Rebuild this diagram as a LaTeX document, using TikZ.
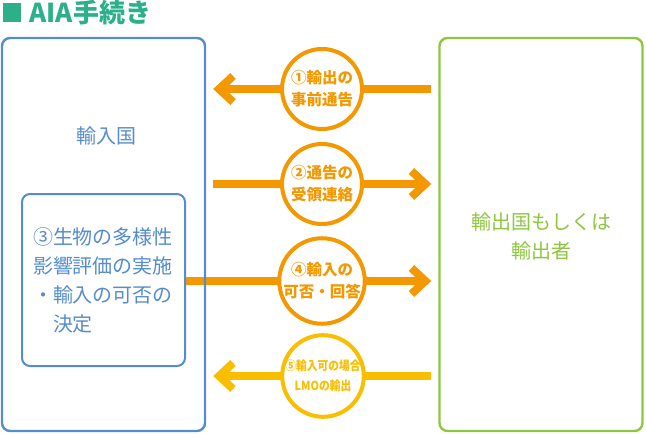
\documentclass[tikz,border=0pt]{standalone}
\usepackage{fontspec}
\setmainfont{Noto Sans CJK JP}
\usepackage{graphicx}
\usepackage{tikz}
\usetikzlibrary{positioning,arrows.meta,backgrounds}
\definecolor{impblue}{RGB}{84, 140, 205}
\definecolor{expgreen}{RGB}{141, 198, 63}
\definecolor{arrorange}{RGB}{243, 152, 0}
\definecolor{arryellow}{RGB}{249, 190, 0}
\definecolor{titlegreen}{RGB}{43, 176, 138}

\begin{document}
\begin{tikzpicture}[x=1pt, y=-1pt,
    bigbox/.style={line width=2.4pt, rounded corners=8pt,
                   minimum width=203pt, minimum height=393pt},
    boxtext/.style={align=center, font=\fontsize{20}{29}\selectfont},
    stepcircle/.style={circle, draw=arrorange, fill=white, line width=4pt,
                       minimum size=80pt, inner sep=0pt, align=center,
                       text=arrorange, font=\bfseries\fontsize{15.5}{22}\selectfont},
    arr/.style={line width=8pt, color=arrorange,
                -{Straight Barb[length=14pt, width=26pt]}, miter limit=10},
]
\useasboundingbox (0,0) rectangle (646,434);

% title
\node[fill=titlegreen, minimum width=18pt, minimum height=19pt, inner sep=0pt] (mark) at (12,12.5) {};
\node[right=5pt of mark, text=titlegreen, font=\bfseries\fontsize{26}{26}\selectfont] (title) {AIA手続き};

% importing / exporting side
\node[bigbox, draw=impblue] (imp) at (103.5,234.5) {};
\node[bigbox, draw=expgreen] (exp) at (541,234.5) {};
\node[boxtext, text=impblue] (implabel) at (106,136) {輸入国};
\node[boxtext, text=expgreen] (explabel) at (541,236) {輸出国もしくは\\輸出者};
\node[draw=impblue, line width=2pt, rounded corners=8pt, minimum width=163pt,
      minimum height=172pt, text=impblue, align=left, inner sep=0pt,
      text width=141pt, font=\fontsize{20}{29}\selectfont] (assess) at (103.5,280)
      {③生物の多様性\\影響評価の実施\\・輸入の可否の\\　決定};

% steps
\node[stepcircle] (notify)   at (322,89)  {①輸出の\\事前通告};
\node[stepcircle] (receipt)  at (322,184) {②通告の\\受領連絡};
\node[stepcircle] (decision) at (322,281) {④輸入の\\可否・回答};
\node[stepcircle, draw=arryellow, text=arryellow,
      font=\bfseries\fontsize{12.5}{20}\selectfont] (lmoexport) at (323,376)
      {\scalebox{0.86}[1]{⑤輸入可の場合}\\\scalebox{0.86}[1]{LMOの輸出}};

\coordinate (impedge) at ([xshift=7pt]imp.east);
\coordinate (expedge) at ([xshift=-7pt]exp.west);

\begin{scope}[on background layer]
\draw[arr] (expedge |- notify)    -- (impedge |- notify);
\draw[arr] (impedge |- receipt)   -- (expedge |- receipt);
\draw[arr] (assess.east |- decision) -- (expedge |- decision);
\draw[arr, color=arryellow] (expedge |- lmoexport) -- (impedge |- lmoexport);
\end{scope}
\end{tikzpicture}
\end{document}
